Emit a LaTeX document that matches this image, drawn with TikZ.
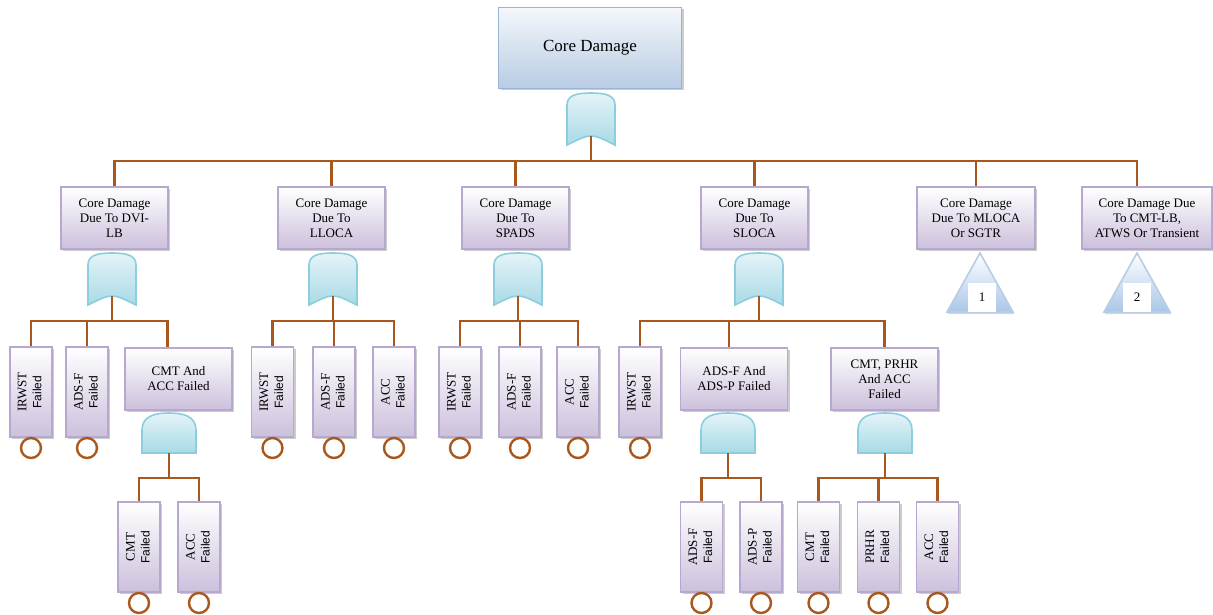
\documentclass[tikz,border=0pt]{standalone}
\usepackage{fontspec}
\setmainfont{Liberation Serif}
\setsansfont{Liberation Sans}
\usetikzlibrary{positioning,shadows}
\definecolor{wirec}{RGB}{168,88,28}
\definecolor{boxline}{RGB}{184,168,208}
\definecolor{boxlow}{RGB}{204,192,220}
\definecolor{topline}{RGB}{152,180,214}
\definecolor{toplow}{RGB}{184,204,228}
\definecolor{gateline}{RGB}{140,205,222}
\definecolor{gatelow}{RGB}{168,218,230}
\definecolor{gatehigh}{RGB}{228,244,248}
\definecolor{trilow}{RGB}{170,198,232}
\newcommand\evt[1]{\rotatebox{90}{\begin{tabular}{@{}c@{}}#1\\\sffamily\fontsize{12}{15}\selectfont Failed\end{tabular}}}

\begin{document}
\begin{tikzpicture}[x=1pt,y=-1pt,
  wire/.style={draw=wirec,line width=2.4pt},
  box/.style={draw=boxline,line width=1.6pt,top color=white,bottom color=boxlow,
    drop shadow={shadow xshift=2pt,shadow yshift=-2pt,fill=black!40,opacity=.5},
    align=center,inner sep=2pt,minimum width=107pt,minimum height=62pt,
    font=\fontsize{13}{15}\selectfont},
  topbox/.style={box,draw=topline,top color=toplow!15,bottom color=toplow,
    minimum width=183pt,minimum height=81pt,font=\fontsize{17}{20}\selectfont},
  leaf/.style={box,minimum width=42pt,minimum height=90pt,inner sep=0pt},
  basicev/.style={circle,draw=wirec,line width=2.4pt,fill=white,minimum size=20pt,inner sep=0pt},
  tag/.style={fill=white,minimum width=28pt,minimum height=29pt,inner sep=0pt,
    font=\fontsize{13}{15}\selectfont},
  gate/.style={draw=gateline,line width=1.6pt,top color=gatehigh,bottom color=gatelow},
  orgate/.pic={\path[gate] (-24,52) -- (-24,12) .. controls (-24,2) and (-14,0) .. (0,0)
    .. controls (14,0) and (24,2) .. (24,12) -- (24,52) .. controls (0,40) .. (-24,52) -- cycle;
    \coordinate (-out) at (0,43);},
  andgate/.pic={\path[gate] (-27,40) -- (-27,17) .. controls (-27,3) and (-14,0) .. (0,0)
    .. controls (14,0) and (27,3) .. (27,17) -- (27,40) -- cycle;
    \coordinate (-out) at (0,40);},
  xfer/.pic={\path[draw=toplow,line width=1.6pt,top color=white,bottom color=trilow,
    drop shadow={shadow xshift=1pt,shadow yshift=-2pt,fill=black!40,opacity=.4}]
    (0,0) -- (33,59) -- (-33,59) -- cycle;}]
\useasboundingbox (0,0) rectangle (1213,615);

\node[topbox] (cd) at (590,48) {Core Damage};
\pic (g0) at (591,93) {orgate};

\node[box] (b1) at (114.5,218) {Core Damage\\Due To DVI-\\LB};
\node[box] (b2) at (331.5,218) {Core Damage\\Due To\\LLOCA};
\node[box] (b3) at (515.5,218) {Core Damage\\Due To\\SPADS};
\node[box] (b4) at (754.5,218) {Core Damage\\Due To\\SLOCA};
\node[box,minimum width=118pt] (b5) at (976,218) {Core Damage\\Due To MLOCA\\Or SGTR};
\node[box,minimum width=130pt] (b6) at (1147,218) {Core Damage Due\\To CMT-LB,\\ATWS Or Transient};

\pic (g1) at (112,253) {orgate};
\pic (g2) at (333,253) {orgate};
\pic (g3) at (518,253) {orgate};
\pic (g4) at (759,253) {orgate};
\pic at (980,253) {xfer};
\pic at (1137,253) {xfer};
\node[tag] (n1) at (982,297.5) {1};
\node[tag] (n2) at (1137,297.5) {2};

\node[leaf] (l11) at (31,392) {\evt{IRWST}};
\node[leaf] (l12) at (87,392) {\evt{ADS-F}};
\node[box] (m13) at (178.5,379) {CMT And\\ACC Failed};
\node[leaf] (l21) at (272.5,392) {\evt{IRWST}};
\node[leaf] (l22) at (334,392) {\evt{ADS-F}};
\node[leaf] (l23) at (394,392) {\evt{ACC}};
\node[leaf] (l31) at (460,392) {\evt{IRWST}};
\node[leaf] (l32) at (520,392) {\evt{ADS-F}};
\node[leaf] (l33) at (578,392) {\evt{ACC}};
\node[leaf] (l41) at (640,392) {\evt{IRWST}};
\node[box] (m42) at (734,379) {ADS-F And\\ADS-P Failed};
\node[box] (m43) at (884.5,379) {CMT, PRHR\\And ACC\\Failed};

\pic (g13) at (169,413) {andgate};
\pic (g42) at (728,413) {andgate};
\pic (g43) at (885,413) {andgate};

\node[leaf] (l131) at (139,547) {\evt{CMT}};
\node[leaf] (l132) at (199,547) {\evt{ACC}};
\node[leaf] (l421) at (701.5,547) {\evt{ADS-F}};
\node[leaf] (l422) at (761,547) {\evt{ADS-P}};
\node[leaf] (l431) at (818.5,547) {\evt{CMT}};
\node[leaf] (l432) at (878.5,547) {\evt{PRHR}};
\node[leaf] (l433) at (937.5,547) {\evt{ACC}};

\foreach \n in {l11,l12,l21,l22,l23,l31,l32,l33,l41,l131,l132,l421,l422,l431,l432,l433}
  \node[basicev,below=-1pt of \n] (\n-c) {};

\draw[wire] (g0-out) -- ++(0,25) coordinate (j0);
\draw[wire] (b1.north) |- (j0) -| ([xshift=-10pt]b6.north);
\foreach \n in {b2,b3,b4,b5}
  \draw[wire] (\n.north) -- (\n.north |- j0);

\draw[wire] (g1-out) -- ++(0,25) coordinate (j1);
\draw[wire] (l11.north) |- (j1) -| ([xshift=-11pt]m13.north);
\draw[wire] (l12.north) -- (l12.north |- j1);

\draw[wire] (g2-out) -- ++(0,25) coordinate (j2);
\draw[wire] (l21.north) |- (j2) -| (l23.north);
\draw[wire] (l22.north) -- (l22.north |- j2);

\draw[wire] (g3-out) -- ++(0,25) coordinate (j3);
\draw[wire] (l31.north) |- (j3) -| (l33.north);
\draw[wire] (l32.north) -- (l32.north |- j3);

\draw[wire] (g4-out) -- ++(0,25) coordinate (j4);
\draw[wire] (l41.north) |- (j4) -| (m43.north);
\draw[wire] ([xshift=-5pt]m42.north) -- ([xshift=-5pt]m42.north |- j4);

\draw[wire] (g13-out) -- ++(0,25) coordinate (j13);
\draw[wire] (l131.north) |- (j13) -| (l132.north);

\draw[wire] (g42-out) -- ++(0,25) coordinate (j42);
\draw[wire] (l421.north) |- (j42) -| (l422.north);

\draw[wire] (g43-out) -- ++(0,25) coordinate (j43);
\draw[wire] (l431.north) |- (j43) -| (l433.north);
\draw[wire] (l432.north) -- (l432.north |- j43);
\end{tikzpicture}
\end{document}
